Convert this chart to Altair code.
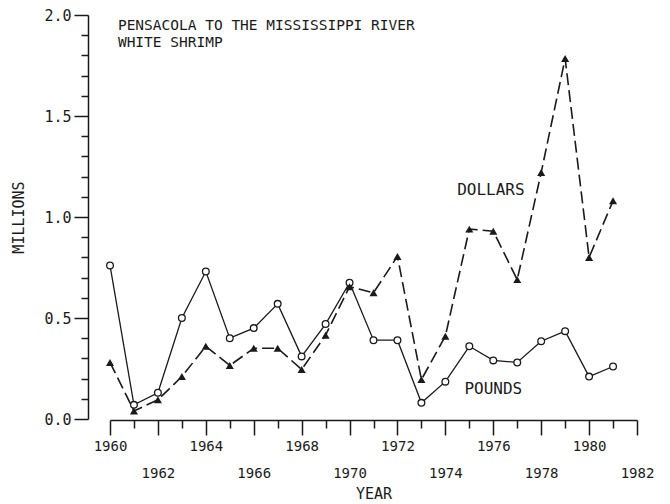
import altair as alt
import pandas as pd

years = list(range(1960, 1982))
pounds = [0.76, 0.07, 0.13, 0.50, 0.73, 0.40, 0.45, 0.57, 0.31, 0.47, 0.675,
          0.39, 0.39, 0.08, 0.185, 0.36, 0.29, 0.28, 0.385, 0.435, 0.21, 0.26]
dollars = [0.28, 0.04, 0.095, 0.21, 0.36, 0.265, 0.35, 0.35, 0.245, 0.415, 0.655,
           0.625, 0.805, 0.195, 0.41, 0.94, 0.93, 0.69, 1.22, 1.785, 0.80, 1.08]

x_ticks = list(range(1960, 1983))
y_ticks = [round(i * 0.1, 1) for i in range(0, 21)]

title_text = "PENSACOLA TO THE MISSISSIPPI RIVER\nWHITE SHRIMP"
title_year = [1960.33]
title_val = [1.982]

series_labels = ["DOLLARS", "POUNDS"]
label_year = [1975.9, 1976.0]
label_val = [1.134, 0.149]

FONT = "DejaVu Sans Mono"
INK = "#1a1a1a"

df_p = pd.DataFrame({"year": years, "value": pounds})
df_d = pd.DataFrame({"year": years, "value": dollars})
df_t = pd.DataFrame({"year": title_year, "value": title_val, "text": [title_text]})
df_l = pd.DataFrame({"year": label_year, "value": label_val, "text": series_labels})

x_scale = alt.Scale(domain=[1960, 1982], nice=False, zero=False)
y_scale = alt.Scale(domain=[0, 2.0], nice=False)

MAJ_Y = "abs(datum.value*2 - round(datum.value*2)) < 0.01"

x_axis = alt.Axis(
    title="YEAR", values=x_ticks, tickCount=len(x_ticks) + 5, format="d",
    labelExpr="datum.value % 2 == 0 ? datum.label : ''",
    tickSize={"condition": {"test": "datum.value % 2 == 0", "value": 15}, "value": 8},
    labelPadding={"condition": {"test": "datum.value % 4 == 2", "value": 31}, "value": 4},
    offset=1, grid=False, domainColor=INK, tickColor=INK, domainWidth=1.5, tickWidth=1.5,
    labelFont=FONT, labelFontSize=14, labelColor=INK, labelAngle=0,
    labelBaseline="top", labelFlush=False, labelOverlap=False,
    titleFont=FONT, titleFontSize=15, titleFontWeight="normal", titleColor=INK,
    titlePadding=6,
)
y_axis = alt.Axis(
    title="MILLIONS", values=y_ticks, tickCount=len(y_ticks) + 5, format=".1f",
    labelExpr=MAJ_Y + " ? datum.label : ''",
    tickSize={"condition": {"test": MAJ_Y, "value": 14}, "value": 7},
    labelPadding=3,
    offset=22, grid=False, domainColor=INK, tickColor=INK, domainWidth=1.5, tickWidth=1.5,
    labelFont=FONT, labelFontSize=15, labelColor=INK, labelOverlap=False, labelFlush=False,
    titleFont=FONT, titleFontSize=15, titleFontWeight="normal", titleColor=INK,
    titlePadding=17,
)

x = alt.X("year:Q", scale=x_scale, axis=x_axis)
y = alt.Y("value:Q", scale=y_scale, axis=y_axis)
xn = alt.X("year:Q", scale=x_scale)
yn = alt.Y("value:Q", scale=y_scale)

pounds_line = alt.Chart(df_p).mark_line(color=INK, strokeWidth=1.3).encode(x=x, y=y)
pounds_pts = alt.Chart(df_p).mark_point(shape="circle", filled=True, fill="white",
                                         stroke=INK, strokeWidth=1.3, size=45, opacity=1).encode(x=xn, y=yn)
dollars_line = alt.Chart(df_d).mark_line(color=INK, strokeWidth=1.6, strokeDash=[12, 5]).encode(x=xn, y=yn)
dollars_pts = alt.Chart(df_d).mark_point(shape="triangle-up", filled=True, color=INK,
                                          size=65, opacity=1).encode(x=xn, y=yn)
titles = alt.Chart(df_t).mark_text(align="left", baseline="top", font=FONT, lineBreak="\n",
                                    lineHeight=17, fontSize=14.5, color=INK).encode(x=xn, y=yn, text="text:N")
labels = alt.Chart(df_l).mark_text(align="center", baseline="middle", font=FONT,
                                    fontSize=16, color=INK).encode(x=xn, y=yn, text="text:N")

chart = alt.layer(pounds_line, dollars_line, pounds_pts, dollars_pts, titles, labels).properties(
    width=527, height=404,
    autosize=alt.AutoSizeParams(type="none"),
    padding={"left": 102, "top": 7, "right": 17, "bottom": 85},
    background="white",
).configure_view(stroke=None)

chart.save("out.html", embed_options={"renderer": "svg", "actions": False})
